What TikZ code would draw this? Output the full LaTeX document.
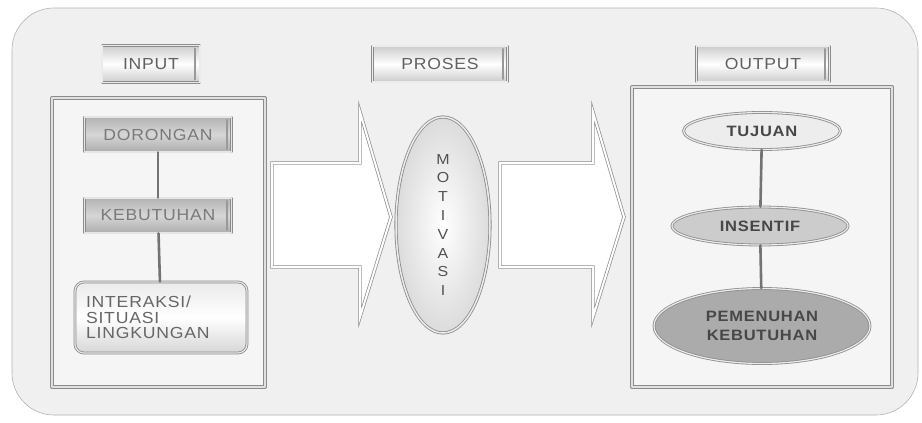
\documentclass[tikz,border=0pt]{standalone}
\usepackage{fontspec}
\setmainfont{Liberation Sans}
\newfontfamily\motfont[FakeStretch=1.1, LetterSpace=5]{Liberation Sans}
\usetikzlibrary{shapes.geometric}

\begin{document}
\begin{tikzpicture}
% Motivation scheme: input -> proses -> output
\def\unitsz{1pt}
\providecommand{\motLineColor}{black!45}
\providecommand{\motTextColor}{black!62}
\providecommand{\motBoldColor}{black!72}
\providecommand{\motPanelColor}{black!6}
\providecommand{\motFrameColor}{black!4}
\tikzset{
  bevel/.style={path picture={
    \draw[black!40, line width=2pt] ([xshift=-5pt,yshift=-3pt]path picture bounding box.north east)
      -- ([xshift=-5pt,yshift=3pt]path picture bounding box.south east);}},
  labelbox/.style={draw=\motLineColor, line width=0.8pt, double=black!8, double distance=1.2pt,
    top color=black!20, bottom color=black!20, middle color=white, text=\motTextColor, bevel,
    inner sep=0pt, font=\motfont\fontsize{16}{18}\selectfont},
  inbox/.style={draw=\motLineColor, line width=0.8pt, double=black!10, double distance=1.2pt,
    top color=black!30, bottom color=black!32, middle color=black!16, text=black!52, bevel,
    minimum width=147pt, minimum height=35pt, inner sep=0pt, font=\motfont\fontsize{16}{18}\selectfont},
  outell/.style={ellipse, draw=\motLineColor, line width=0.8pt, double=black!8, double distance=1.2pt,
    text=\motBoldColor, inner sep=0pt, align=center, font=\motfont\bfseries\fontsize{15}{18.3}\selectfont},
  frameline/.style={draw=\motLineColor, line width=0.8pt, double=black!12, double distance=2.5pt, fill=\motFrameColor},
  blockarrow/.style={draw=\motLineColor, line width=0.7pt, double=white, double distance=2pt, fill=white, line join=miter},
  link/.style={draw=black!55, line width=2.6pt}
}
\begin{scope}[x=\unitsz, y=-\unitsz, line cap=round, line join=round]
  \useasboundingbox (0,0) rectangle (922,423);
  % Outer rounded panel
  \draw[draw=black!30, line width=0.6pt, fill=\motPanelColor, rounded corners=42pt] (12,8) rectangle (918,415);
  % Titles
  \node[labelbox, minimum width=98pt, minimum height=37pt] (input) at (151,64) {INPUT};
  \node[labelbox, minimum width=135pt, minimum height=36pt] (proses) at (440,64) {PROSES};
  \node[labelbox, minimum width=133pt, minimum height=36pt] (output) at (763,64) {OUTPUT};
  % Frames
  \draw[frameline] (52,98) rectangle (265,387);
  \draw[frameline] (632,87) rectangle (892,387);
  % Block arrows
  \foreach \x/\len in {272/88, 500/93} {
    \draw[blockarrow] (\x,163) -- ++(\len,0) -- ++(0,-51) -- ++(31,105) -- ++(-31,100) -- ++(0,-50) -- (\x,267) -- cycle;
  }
  % Input side
  \node[inbox] (dorongan) at (158,134.5) {DORONGAN};
  \node[inbox] (kebutuhan) at (158,215.5) {KEBUTUHAN};
  \node[inbox, minimum width=172pt, minimum height=71pt, rounded corners=9pt, align=left, text width=150pt,
    path picture={}, top color=black!8, bottom color=black!16, middle color=white, text=black!60,
    font=\motfont\fontsize{16}{15.5}\selectfont] (interaksi) at (161,317.5)
    {INTERAKSI/\\SITUASI\\LINGKUNGAN};
  \draw[link] (dorongan) -- (kebutuhan);
  \draw[link] (kebutuhan) -- (interaksi);
  % Process
  \node[ellipse, draw=\motLineColor, line width=0.8pt, double=black!8, double distance=1.5pt,
    inner color=white, outer color=black!14, minimum width=94pt, minimum height=216pt,
    inner sep=0pt, align=center, text=black!68, font=\motfont\fontsize{14.5}{18.8}\selectfont] (motivasi) at (443,225)
    {M\\O\\T\\I\\V\\A\\S\\I};
  % Output side
  \node[outell, fill=black!7, minimum width=157pt, minimum height=37pt] (tujuan) at (762,131) {TUJUAN};
  \node[outell, fill=black!20, minimum width=176pt, minimum height=38pt] (insentif) at (760,226) {INSENTIF};
  \node[outell, fill=black!33, minimum width=216pt, minimum height=75pt] (pemenuhan) at (762,326) {PEMENUHAN\\KEBUTUHAN};
  \draw[link] (tujuan) -- (insentif);
  \draw[link] (insentif) -- (pemenuhan);
\end{scope}
\end{tikzpicture}
\end{document}
